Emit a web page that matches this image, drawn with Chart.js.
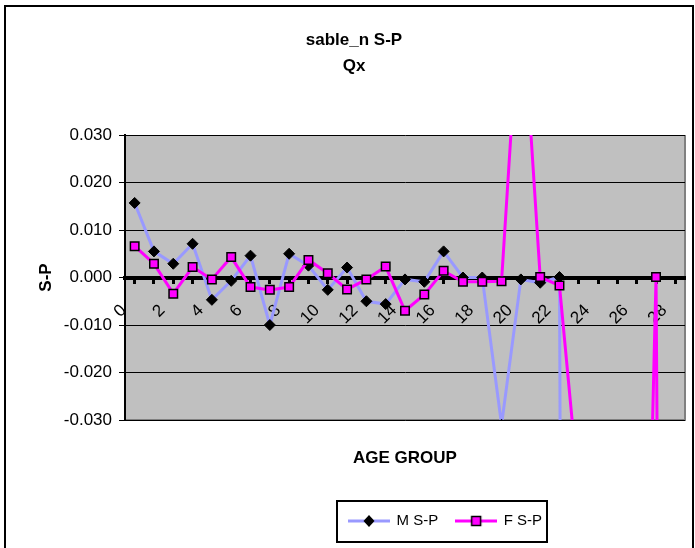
<!DOCTYPE html>
<html>
<head>
<meta charset="utf-8">
<title>sable_n S-P Qx</title>
<script src="https://cdn.jsdelivr.net/npm/chart.js@4"></script>
<style>
    html, body { margin: 0; padding: 0; background: #fff; overflow: hidden; }
    #wrap { position: relative; width: 695px; height: 548px; }
    #frame { position: absolute; left: 4px; top: 5px; width: 686px; height: 560px; border: 2px solid #000; pointer-events: none; }
</style>
</head>
<body>
<div id="wrap">
    <canvas id="chart" width="695" height="548"></canvas>
    <div id="frame"></div>
</div>
<script>
// Age groups 0..28 (only every second one gets a label)
const ageGroups = ["0", "1", "2", "3", "4", "5", "6", "7", "8", "9", "10", "11", "12", "13", "14",
    "15", "16", "17", "18", "19", "20", "21", "22", "23", "24", "25", "26", "27", "28"];

// S-P differences (null = no point shown)
const maleSP = [0.0157, 0.0055, 0.0029, 0.0071, -0.0047, -0.0007, 0.0046, -0.0100, 0.0050, 0.0025,
    -0.0026, 0.0021, -0.0050, -0.0056, -0.0004, -0.0009, 0.0055, 0.0000, 0.0000, -0.031,
    -0.0004, -0.0011, 0.0001, -1.0, null, null, null, null, null];
const femaleSP = [0.0066, 0.0029, -0.0034, 0.0022, -0.0004, 0.0043, -0.0020, -0.0026, -0.0020, 0.0037,
    0.0009, -0.0025, -0.0004, 0.0023, -0.0070, -0.0036, 0.0014, -0.0009, -0.0009, -0.0008,
    0.063, 0.0001, -0.0017, -0.045, null, null, -0.17, 0.0001, -0.6];

const yMin = -0.03;
const yMax = 0.03;
const yStep = 0.01;

Chart.defaults.font.family = "'Liberation Sans', Arial, sans-serif";
Chart.defaults.color = "#000";

// legend symbols: line segment with the series marker on top
function legendIcon(lineColor, drawMarker) {
    const c = document.createElement("canvas");
    c.width = 42;
    c.height = 16;
    const g = c.getContext("2d");
    g.strokeStyle = lineColor;
    g.lineWidth = 3;
    g.beginPath();
    g.moveTo(0, 8);
    g.lineTo(42, 8);
    g.stroke();
    drawMarker(g, 21, 8);
    return c;
}

const maleIcon = legendIcon("#9999ff", (g, x, y) => {
    g.fillStyle = "#000";
    g.beginPath();
    g.moveTo(x, y - 6);
    g.lineTo(x + 5.5, y);
    g.lineTo(x, y + 6);
    g.lineTo(x - 5.5, y);
    g.closePath();
    g.fill();
});

const femaleIcon = legendIcon("#ff00ff", (g, x, y) => {
    g.fillStyle = "#ff00ff";
    g.fillRect(x - 4.5, y - 4.5, 9, 9);
    g.strokeStyle = "#000";
    g.lineWidth = 1.5;
    g.strokeRect(x - 4.5, y - 4.5, 9, 9);
});

// grey plot area like the spreadsheet default
const plotBackground = {
    id: "plotBackground",
    beforeDraw(chart) {
        const { ctx, chartArea: a } = chart;
        ctx.save();
        ctx.fillStyle = "#c0c0c0";
        ctx.fillRect(a.left, a.top, a.right - a.left, a.bottom - a.top);
        ctx.strokeStyle = "#808080";
        ctx.lineWidth = 2;
        ctx.beginPath();
        ctx.moveTo(a.right, a.top);
        ctx.lineTo(a.right, a.bottom);
        ctx.lineTo(a.left, a.bottom);
        ctx.stroke();
        ctx.restore();
    }
};

// move the legend right of centre and frame it
const legendBox = {
    id: "legendBox",
    afterLayout(chart) {
        const lg = chart.legend;
        lg.left = 331;
        lg.right = 600;
    },
    afterDraw(chart) {
        const boxes = chart.legend.legendHitBoxes;
        if (!boxes || !boxes.length) return;
        const first = boxes[0];
        const last = boxes[boxes.length - 1];
        const ctx = chart.ctx;
        const x0 = first.left - 12;
        const x1 = last.left + last.width + 5;
        ctx.save();
        ctx.strokeStyle = "#000";
        ctx.lineWidth = 2;
        ctx.strokeRect(x0, first.top - 12.5, x1 - x0, first.height + 26);
        ctx.restore();
    }
};

const ctx = document.getElementById("chart").getContext("2d");

new Chart(ctx, {
    type: "line",
    data: {
        labels: ageGroups,
        datasets: [{
            label: "M S-P",
            data: maleSP,
            borderColor: "#9999ff",
            borderWidth: 3,
            pointStyle: "rectRot",
            pointRadius: 5.5,
            pointBackgroundColor: "#000",
            pointBorderColor: "#000",
            pointBorderWidth: 1,
            tension: 0,
            spanGaps: false,
            order: 1
        }, {
            label: "F S-P",
            data: femaleSP,
            borderColor: "#ff00ff",
            borderWidth: 3,
            pointStyle: "rect",
            pointRadius: 6,
            pointBackgroundColor: "#ff00ff",
            pointBorderColor: "#000",
            pointBorderWidth: 1.5,
            tension: 0,
            spanGaps: false,
            order: 0
        }]
    },
    options: {
        responsive: false,
        animation: false,
        devicePixelRatio: 1,
        layout: { padding: { left: 23, right: 10, top: 0, bottom: 9.5 } },
        scales: {
            x: {
                type: "category",
                position: { y: 0 },
                offset: true,
                afterFit(scale) {
                    // the axis sits inside the plot, so its labels must not shrink the plot
                    scale.paddingLeft = 0;
                    scale.paddingRight = 0;
                    scale.paddingTop = 0;
                    scale.paddingBottom = 0;
                },
                grid: {
                    drawOnChartArea: false,
                    drawTicks: true,
                    tickLength: 4,
                    tickWidth: 3,
                    tickColor: "#000",
                    color: "#000"
                },
                border: { display: true, color: "#000", width: 4 },
                ticks: {
                    autoSkip: false,
                    minRotation: 45,
                    maxRotation: 45,
                    padding: 19,
                    labelOffset: -11,
                    color: "#000",
                    font: { size: 17 },
                    callback: (v, i) => (i % 2 === 0 ? ageGroups[i] : "")
                }
            },
            x2: {
                type: "category",
                position: "bottom",
                offset: true,
                grid: { display: false, drawTicks: false },
                border: { display: false },
                ticks: { display: false },
                title: {
                    display: true,
                    text: "AGE GROUP",
                    color: "#000",
                    font: { size: 17, weight: "bold" },
                    padding: { top: 28.3, bottom: 26.8 }
                }
            },
            y: {
                min: yMin,
                max: yMax,
                afterFit(scale) { scale.width = 102; },
                grid: {
                    color: "#000",
                    lineWidth: 1,
                    drawTicks: true,
                    tickLength: 6,
                    tickColor: "#000"
                },
                border: { display: true, color: "#000", width: 2 },
                ticks: {
                    stepSize: yStep,
                    padding: 7,
                    color: "#000",
                    font: { size: 17 },
                    callback: v => (Math.abs(v) < 1e-9 ? "0.000" : v.toFixed(3))
                },
                title: {
                    display: true,
                    text: "S-P",
                    color: "#000",
                    font: { size: 17, weight: "bold" },
                    padding: { top: 12.8, bottom: 0 }
                }
            }
        },
        plugins: {
            title: {
                display: true,
                text: ["sable_n S-P", "Qx"],
                color: "#000",
                font: { size: 17, weight: "bold", lineHeight: 1.53 },
                padding: { top: 27, bottom: 56 }
            },
            legend: {
                position: "bottom",
                align: "start",
                labels: {
                    usePointStyle: true,
                    pointStyleWidth: 40,
                    padding: 18,
                    color: "#000",
                    font: { size: 15 },
                    generateLabels: chart => chart.data.datasets.map((ds, i) => ({
                        text: ds.label,
                        pointStyle: i === 0 ? maleIcon : femaleIcon,
                        fillStyle: ds.borderColor,
                        strokeStyle: ds.borderColor,
                        lineWidth: 0,
                        hidden: !chart.isDatasetVisible(i),
                        datasetIndex: i
                    }))
                }
            },
            tooltip: { enabled: false }
        }
    },
    plugins: [plotBackground, legendBox]
});
</script>
</body>
</html>
